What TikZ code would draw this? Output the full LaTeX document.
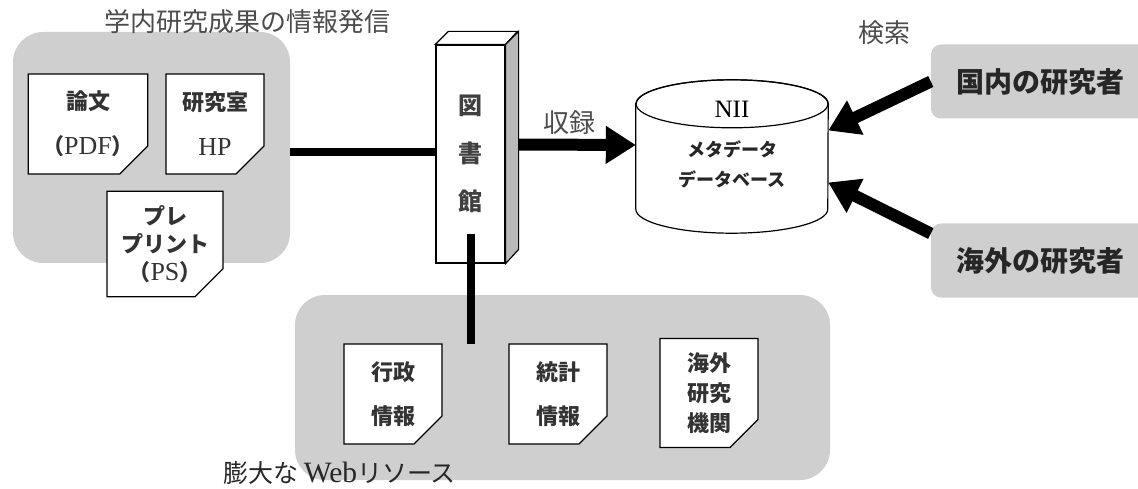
\documentclass[tikz,border=0pt]{standalone}
\usepackage{fontspec}
\setmainfont{Liberation Serif}
\newfontfamily\jp{Noto Sans CJK JP}
\newfontfamily\latfont{Liberation Serif}[Scale=1.18]
\newcommand{\lat}[1]{{\latfont\mdseries #1}}
\usetikzlibrary{positioning,shapes.misc,arrows.meta}

\begin{document}
\begin{tikzpicture}[x=1pt, y=1pt,
  area/.style = {fill=gray!38, rounded corners=30pt, inner sep=0pt},
  docnote/.style = {chamfered rectangle, chamfered rectangle corners=south east,
    chamfered rectangle xsep=14pt, chamfered rectangle ysep=14pt,
    draw, line width=1.2pt, fill=white, minimum width=98pt, minimum height=100pt,
    align=center, inner sep=0pt, text=black!80,
    font=\jp\bfseries\fontsize{22}{26}\selectfont,
    path picture={\draw[line width=0.8pt, fill=gray!55]
      ([xshift=-14pt]path picture bounding box.south east) --
      ([yshift=14pt]path picture bounding box.south east) --
      ([xshift=-12pt,yshift=12pt]path picture bounding box.south east) -- cycle;}},
  caption/.style = {text=black!70, inner sep=0pt, font=\jp\fontsize{26}{30}\selectfont},
  who/.style = {fill=gray!38, rounded corners=10pt, minimum width=219pt,
    minimum height=74pt, text=black!85, font=\jp\bfseries\fontsize{28}{32}\selectfont},
  conn/.style = {line width=8pt},
  bigarrow/.style = {line width=12pt, -{Triangle[length=30pt,width=36pt]}}]
  \useasboundingbox (0,0) rectangle (1138,488);

  \node[area, minimum width=277pt, minimum height=231pt] (inhouse) at (151.5,340.5) {};
  \node[caption] (inhousetitle) at (247,466) {学内研究成果の情報発信};
  \node[docnote] (paper) at (88,364) {論文\\[19pt]{（}\lat{PDF}{）}};
  \node[docnote] (lab) at (215,364) {研究室\\[19pt]\lat{HP}};
  \node[docnote] (preprint) at (165,244) {プレ\\[2pt]プリント\\[2pt]{（}\lat{PS}{）}};

  \node[area, minimum width=535pt, minimum height=185pt] (web) at (562.5,100.5) {};
  \node[caption, anchor=west, text=black!85, font=\jp\fontsize{25}{30}\selectfont]
    (webtitle) at (223,15) {膨大な \lat{Web}リソース};
  \node[docnote] (gov) at (393,94) {行政\\[18pt]情報};
  \node[docnote] (stat) at (558,94) {統計\\[18pt]情報};
  \node[docnote] (inst) at (709,95) {海外\\[4pt]研究\\[4pt]機関};

  \draw[conn] (inhouse.east |- 0,336) -- (436,336);
  \node[draw, fill=white, line width=1.2pt, minimum width=69pt, minimum height=218pt,
    align=center, text=black!75, font=\jp\bfseries\fontsize{24}{28}\selectfont]
    (lib) at (470.5,334) {図\\[20pt]書\\[20pt]館};
  \draw[line width=1.2pt, fill=white] (lib.north west) -- ++(13,13) -- ++(69,0)
    -- (lib.north east) -- cycle;
  \draw[line width=1.2pt, fill=gray!55] (lib.north east) -- ++(13,13) -- ++(0,-218)
    -- (lib.south east) -- cycle;
  \draw[conn] ([yshift=30pt]lib.south) -- ++(0,-110);

  \node[minimum width=192pt, minimum height=153pt, inner sep=0pt] (db) at (732,331.5) {};
  \draw[line width=1.2pt, fill=white] ([yshift=-24pt]db.north west)
    -- ([yshift=24pt]db.south west) arc[start angle=180, end angle=360, x radius=96pt, y radius=24pt]
    -- ([yshift=-24pt]db.north east) arc[start angle=0, end angle=180, x radius=96pt, y radius=24pt]
    -- cycle;
  \draw[line width=1.2pt] ([yshift=-24pt]db.north) ellipse[x radius=96pt, y radius=24pt];
  \node[font=\fontsize{25}{30}\selectfont] (dbname) at ([yshift=-30pt]db.north) {NII};
  \node[align=center, text=black!85, font=\jp\bfseries\fontsize{18}{30}\selectfont]
    (dbtext) at ([yshift=-85pt]db.north) {メタデータ\\データベース};

  \draw[bigarrow] ([xshift=13pt,yshift=9.5pt]lib.east) -- ([yshift=11.5pt]db.west);
  \node[caption] (recordlabel) at (569,365) {収録};

  \node[who] (jpres) at (1040.5,406.5) {国内の研究者};
  \node[who] (ovres) at (1040.5,227.5) {海外の研究者};
  \node[caption] (searchlabel) at (884,455) {検索};
  \draw[bigarrow] (jpres.west) -- ([yshift=26pt]db.east);
  \draw[bigarrow] ([yshift=27pt]ovres.west) -- ([yshift=-26pt]db.east);
\end{tikzpicture}
\end{document}
